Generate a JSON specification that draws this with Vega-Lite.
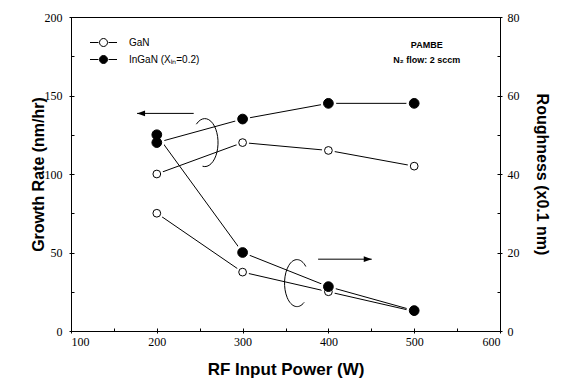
{
  "$schema": "https://vega.github.io/schema/vega-lite/v6.json",
  "width": 429,
  "height": 314,
  "autosize": {"type": "none"},
  "padding": {"left": 71, "top": 17, "right": 62, "bottom": 53},
  "background": "white",
  "config": {
    "font": "Liberation Sans",
    "view": {"stroke": "black", "strokeWidth": 1},
    "axis": {
      "domain": false,
      "ticks": true,
      "tickOpacity": 1,
      "tickColor": "black",
      "tickWidth": 1,
      "labelColor": "black",
      "titleColor": "black",
      "labelFont": "Liberation Sans Narrow",
      "labelFontSize": 12,
      "titleFont": "Liberation Sans",
      "titleFontSize": 16,
      "titleFontWeight": "bold",
      "grid": false,
      "zindex": 1,
      "offset": -3
    }
  },
  "datasets": {
    "growth": [
      {"x": 200, "y": 100, "s": "GaN"},
      {"x": 300, "y": 120, "s": "GaN"},
      {"x": 400, "y": 115, "s": "GaN"},
      {"x": 500, "y": 105, "s": "GaN"},
      {"x": 200, "y": 120, "s": "InGaN (Xᵢₙ=0.2)"},
      {"x": 300, "y": 135, "s": "InGaN (Xᵢₙ=0.2)"},
      {"x": 400, "y": 145, "s": "InGaN (Xᵢₙ=0.2)"},
      {"x": 500, "y": 145, "s": "InGaN (Xᵢₙ=0.2)"}
    ],
    "rough": [
      {"x": 200, "y": 30, "s": "GaN"},
      {"x": 300, "y": 15, "s": "GaN"},
      {"x": 400, "y": 10, "s": "GaN"},
      {"x": 500, "y": 5, "s": "GaN"},
      {"x": 200, "y": 50, "s": "InGaN (Xᵢₙ=0.2)"},
      {"x": 300, "y": 20, "s": "InGaN (Xᵢₙ=0.2)"},
      {"x": 400, "y": 11.3, "s": "InGaN (Xᵢₙ=0.2)"},
      {"x": 500, "y": 5.2, "s": "InGaN (Xᵢₙ=0.2)"}
    ],
    "arrowG": [{"x": 177, "x2": 243, "y": 138.6}],
    "arrowR": [{"x": 388, "x2": 450.5, "y": 18.3}],
    "ellG": [{"x": 256, "y": 120}],
    "ellR": [{"x": 363.4, "y": 12.2}],
    "notes": [
      {"x": 514.6, "y": 182.2, "t": "PAMBE"},
      {"x": 514.6, "y": 172.6, "t": "N₂ flow: 2 sccm"}
    ]
  },
  "encoding": {
    "x": {
      "field": "x", "type": "quantitative",
      "scale": {"domain": [100, 600], "nice": false, "zero": false},
      "axis": {
        "values": [100, 150, 200, 250, 300, 350, 400, 450, 500, 550, 600],
        "labelExpr": "datum.value % 100 === 0 ? datum.label : ''",
        "tickSize": {"condition": {"test": "datum.value % 100 === 0", "value": 5}, "value": 3},
        "title": "RF Input Power (W)", "titleFontSize": 17, "labelPadding": 3, "titlePadding": 14}
    }
  },
  "layer": [
    {
      "data": {"name": "growth"},
      "mark": {"type": "line", "color": "black", "strokeWidth": 1},
      "encoding": {
        "y": {"field": "y", "type": "quantitative", "scale": {"domain": [0, 200], "nice": false},
          "axis": {"orient": "left", "values": [0, 25, 50, 75, 100, 125, 150, 175, 200],
            "labelExpr": "datum.value % 50 === 0 ? datum.label : ''",
            "tickSize": {"condition": {"test": "datum.value % 50 === 0", "value": 5}, "value": 3},
            "title": "Growth Rate (nm/hr)", "labelPadding": 7, "titlePadding": -2}},
        "detail": {"field": "s"}
      }
    },
    {
      "data": {"name": "rough"},
      "mark": {"type": "line", "color": "black", "strokeWidth": 1},
      "encoding": {
        "y": {"field": "y", "type": "quantitative", "scale": {"domain": [0, 80], "nice": false},
          "axis": {"orient": "right", "values": [0, 10, 20, 30, 40, 50, 60, 70, 80],
            "labelExpr": "datum.value % 20 === 0 ? datum.label : ''",
            "tickSize": {"condition": {"test": "datum.value % 20 === 0", "value": 5}, "value": 3},
            "title": "Roughness (x0.1 nm)", "labelPadding": 5, "titlePadding": 14}},
        "detail": {"field": "s"}
      }
    },
    {
      "data": {"name": "growth"},
      "mark": {"type": "point", "shape": "circle", "filled": true, "color": "white", "opacity": 1},
      "encoding": {
        "y": {"field": "y", "type": "quantitative", "scale": {"domain": [0, 200], "nice": false}, "axis": null},
        "size": {"field": "s", "type": "nominal", "scale": {"range": [170, 240]}, "legend": null}
      }
    },
    {
      "data": {"name": "rough"},
      "mark": {"type": "point", "shape": "circle", "filled": true, "color": "white", "opacity": 1},
      "encoding": {
        "y": {"field": "y", "type": "quantitative", "scale": {"domain": [0, 80], "nice": false}, "axis": null},
        "size": {"field": "s", "type": "nominal", "scale": {"range": [170, 240]}, "legend": null}
      }
    },
    {
      "data": {"name": "growth"},
      "mark": {"type": "point", "shape": "circle", "filled": true, "stroke": "black", "strokeWidth": 1, "opacity": 1},
      "encoding": {
        "y": {"field": "y", "type": "quantitative", "scale": {"domain": [0, 200], "nice": false}, "axis": null},
        "size": {"field": "s", "type": "nominal", "scale": {"range": [60, 95]}, "legend": null},
        "fill": {"field": "s", "type": "nominal", "scale": {"range": ["white", "black"]},
          "legend": {
            "title": null, "orient": "none", "legendX": 22, "legendY": 15,
            "symbolType": "M-1.35,0H-0.5M0.5,0H1.35M0.4,0A0.4,0.4,0,1,1,-0.4,0A0.4,0.4,0,1,1,0.4,0Z",
            "symbolSize": 400, "symbolStrokeColor": "black", "symbolStrokeWidth": 1,
            "labelFont": "Liberation Sans", "labelFontSize": 10, "labelColor": "black",
            "labelOffset": 15, "rowPadding": -1, "padding": 0
          }}
      }
    },
    {
      "data": {"name": "rough"},
      "mark": {"type": "point", "shape": "circle", "filled": true, "stroke": "black", "strokeWidth": 1, "opacity": 1},
      "encoding": {
        "y": {"field": "y", "type": "quantitative", "scale": {"domain": [0, 80], "nice": false}, "axis": null},
        "size": {"field": "s", "type": "nominal", "scale": {"range": [60, 95]}, "legend": null},
        "fill": {"field": "s", "type": "nominal", "legend": null}
      }
    },
    {
      "data": {"name": "arrowG"},
      "mark": {"type": "rule", "color": "black", "strokeWidth": 1},
      "encoding": {
        "x2": {"field": "x2"},
        "y": {"field": "y", "type": "quantitative", "scale": {"domain": [0, 200], "nice": false}, "axis": null}
      }
    },
    {
      "data": {"name": "arrowG"},
      "mark": {"type": "point", "shape": "M0,0L1,-0.35L1,0.35Z", "filled": true, "color": "black", "size": 256, "opacity": 1},
      "encoding": {
        "y": {"field": "y", "type": "quantitative", "scale": {"domain": [0, 200], "nice": false}, "axis": null}
      }
    },
    {
      "data": {"name": "arrowR"},
      "mark": {"type": "rule", "color": "black", "strokeWidth": 1},
      "encoding": {
        "x2": {"field": "x2"},
        "y": {"field": "y", "type": "quantitative", "scale": {"domain": [0, 80], "nice": false}, "axis": null}
      }
    },
    {
      "data": {"name": "arrowR"},
      "mark": {"type": "point", "shape": "M0,0L-1,-0.35L-1,0.35Z", "filled": true, "color": "black", "size": 256, "opacity": 1},
      "encoding": {
        "x": {"field": "x2", "type": "quantitative"},
        "y": {"field": "y", "type": "quantitative", "scale": {"domain": [0, 80], "nice": false}, "axis": null}
      }
    },
    {
      "data": {"name": "ellG"},
      "mark": {"type": "point", "shape": "M-0.354,-0.766A0.55,1,0,1,1,-0.096,0.985", "filled": false, "stroke": "black", "strokeWidth": 1, "size": 2304, "opacity": 1},
      "encoding": {
        "y": {"field": "y", "type": "quantitative", "scale": {"domain": [0, 200], "nice": false}, "axis": null}
      }
    },
    {
      "data": {"name": "ellR"},
      "mark": {"type": "point", "shape": "M0.375,-0.707A0.53,1,0,1,0,0.304,0.819", "filled": false, "stroke": "black", "strokeWidth": 1, "size": 2209, "opacity": 1},
      "encoding": {
        "y": {"field": "y", "type": "quantitative", "scale": {"domain": [0, 80], "nice": false}, "axis": null}
      }
    },
    {
      "data": {"name": "notes"},
      "mark": {"type": "text", "font": "Liberation Sans", "fontWeight": "bold", "fontSize": 9, "color": "black", "align": "center", "baseline": "middle"},
      "encoding": {
        "text": {"field": "t"},
        "y": {"field": "y", "type": "quantitative", "scale": {"domain": [0, 200], "nice": false}, "axis": null}
      }
    }
  ],
  "resolve": {"scale": {"y": "independent", "size": "independent"}}
}
